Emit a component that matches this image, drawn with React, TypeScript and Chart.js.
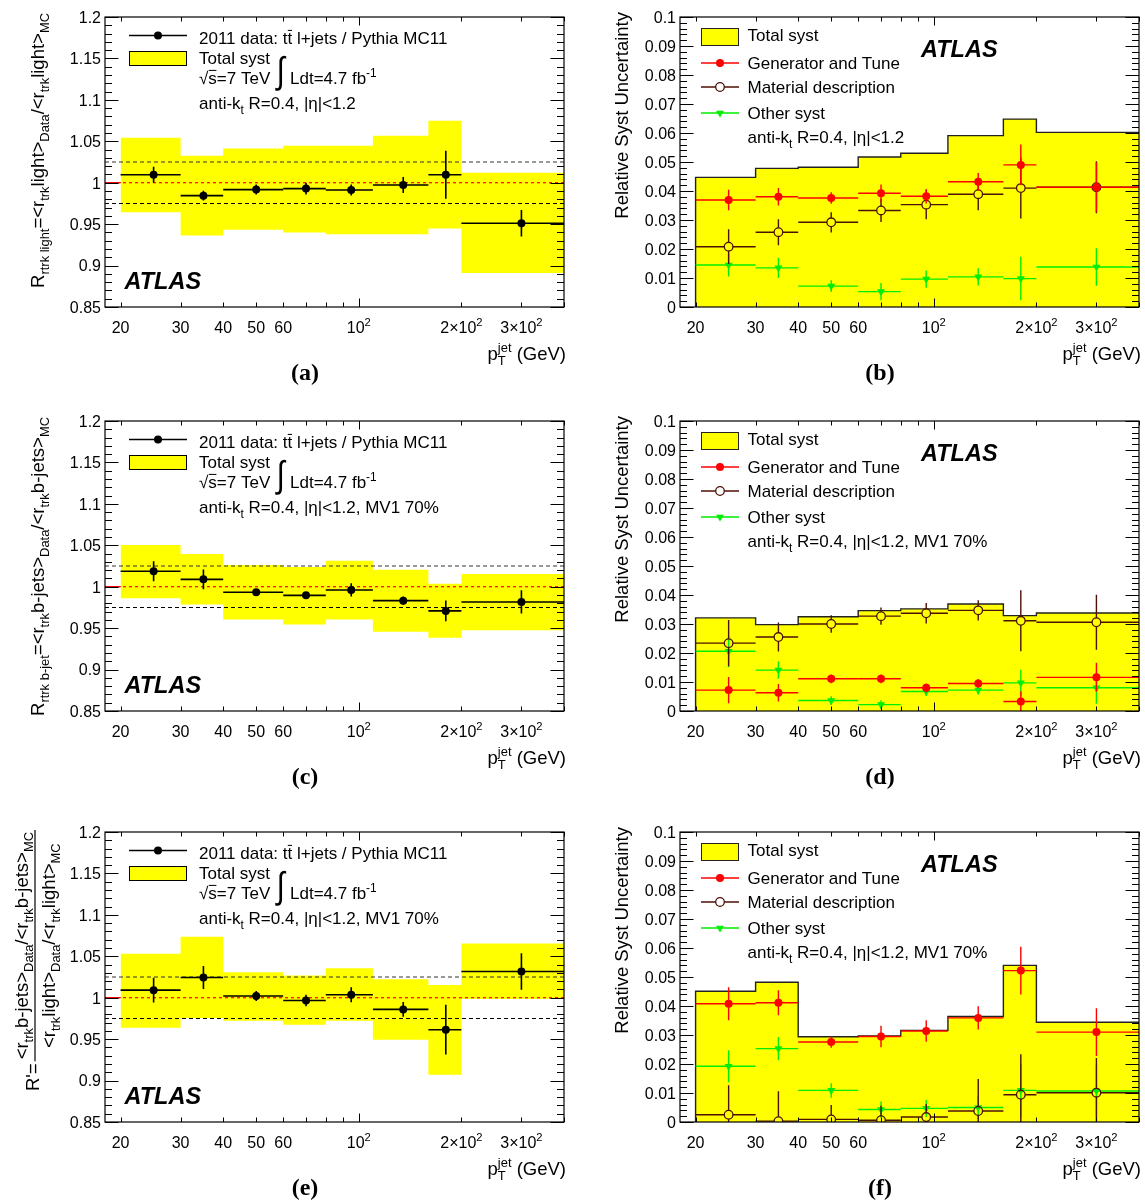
import React, { useEffect, useRef } from 'react';
import { Chart, registerables } from 'chart.js';

Chart.register(...registerables);

const SANS = '"Liberation Sans", Arial, Helvetica, sans-serif';
const SERIF = '"Liberation Serif", "Times New Roman", serif';

// ---------------- shared binning / axes ----------------
const X_MIN = 18;
const X_MAX = 400;
const binEdges = [20, 30, 40, 60, 80, 110, 160, 200, 400];
const binCenters = [25, 35, 50, 70, 95, 135, 180, 300];
const xTickValues = [20, 30, 40, 50, 60, 70, 80, 90, 100, 200, 300, 400];
const xLabelValues = [20, 30, 40, 50, 60, 100, 200, 300];
const xLabelTexts = ['20', '30', '40', '50', '60', '10^{2}', '2×10^{2}', '3×10^{2}'];

const ratioYMin = 0.85;
const ratioYMax = 1.2;
const ratioYTickValues = [0.85, 0.9, 0.95, 1.0, 1.05, 1.1, 1.15, 1.2];
const ratioYTickLabels = ['0.85', '0.9', '0.95', '1', '1.05', '1.1', '1.15', '1.2'];
const ratioMinorStep = 0.01;
const ratioUnity = 1.0;
const ratioUpperRef = 1.025;
const ratioLowerRef = 0.975;

const systYMin = 0;
const systYMax = 0.1;
const systYTickValues = [0, 0.01, 0.02, 0.03, 0.04, 0.05, 0.06, 0.07, 0.08, 0.09, 0.1];
const systYTickLabels = ['0', '0.01', '0.02', '0.03', '0.04', '0.05', '0.06', '0.07', '0.08', '0.09', '0.1'];
const systMinorStep = 0.002;

// ---------------- panel (a): light jets ----------------
const aValues = [1.0097, 0.9844, 0.9917, 0.9929, 0.9912, 0.9973, 1.0097, 0.9511];
const aErr = [0.0096, 0.006, 0.006, 0.007, 0.0065, 0.0096, 0.029, 0.016];
const aBandHi = [1.0543, 1.0326, 1.0414, 1.0446, 1.0446, 1.0567, 1.0748, 1.0121];
const aBandLo = [0.9643, 0.9363, 0.9431, 0.9399, 0.9379, 0.9379, 0.9447, 0.8909];

// ---------------- panel (b) ----------------
const bTotal = [0.0447, 0.0478, 0.0482, 0.0517, 0.053, 0.0591, 0.0648, 0.0602];
const bGen = [0.0369, 0.038, 0.0376, 0.0392, 0.0382, 0.0432, 0.049, 0.0413];
const bGenErr = [0.0035, 0.003, 0.002, 0.003, 0.0025, 0.003, 0.007, 0.0085];
const bMat = [0.0208, 0.0258, 0.0292, 0.0333, 0.0353, 0.0389, 0.041, 0.0413];
const bMatErr = [0.006, 0.0045, 0.0035, 0.004, 0.005, 0.0055, 0.0105, 0.009];
const bOth = [0.0145, 0.0135, 0.0072, 0.0053, 0.0096, 0.0104, 0.0098, 0.0138];
const bOthErr = [0.004, 0.0035, 0.002, 0.003, 0.003, 0.003, 0.0075, 0.0065];

// ---------------- panel (c): b-jets ----------------
const cValues = [1.0186, 1.0089, 0.9933, 0.9896, 0.9961, 0.9832, 0.9708, 0.9816];
const cErr = [0.012, 0.012, 0.004, 0.004, 0.008, 0.005, 0.0125, 0.014];
const cBandHi = [1.0503, 1.0394, 1.0262, 1.0238, 1.0314, 1.0206, 1.0037, 1.0153];
const cBandLo = [0.986, 0.9784, 0.9603, 0.9543, 0.9603, 0.9455, 0.9383, 0.9475];

// ---------------- panel (d) ----------------
const dTotal = [0.0321, 0.0298, 0.0325, 0.0346, 0.0352, 0.0369, 0.0329, 0.0338];
const dGen = [0.0072, 0.0063, 0.0111, 0.0111, 0.008, 0.0095, 0.0033, 0.0116];
const dGenErr = [0.0045, 0.003, 0.0015, 0.0015, 0.0015, 0.0015, 0.0035, 0.005];
const dMat = [0.0234, 0.0255, 0.03, 0.0327, 0.0337, 0.0347, 0.0311, 0.0306];
const dMatErr = [0.008, 0.005, 0.003, 0.003, 0.0035, 0.0035, 0.0105, 0.0095];
const dOth = [0.0206, 0.0141, 0.0036, 0.0022, 0.0067, 0.0072, 0.0097, 0.008];
const dOthErr = [0.0055, 0.003, 0.0015, 0.0015, 0.0015, 0.0015, 0.0045, 0.0055];

// ---------------- panel (e): double ratio ----------------
const eValues = [1.0091, 1.0244, 1.002, 0.9967, 1.0036, 0.9859, 0.9614, 1.0316];
const eErr = [0.015, 0.014, 0.006, 0.007, 0.009, 0.009, 0.03, 0.022];
const eBandHi = [1.0532, 1.0735, 1.0308, 1.0268, 1.0356, 1.0224, 1.0152, 1.0653];
const eBandLo = [0.9638, 0.9755, 0.9723, 0.9675, 0.9723, 0.9494, 0.9069, 0.9984];

// ---------------- panel (f) ----------------
const fTotal = [0.0451, 0.0482, 0.0294, 0.0297, 0.0316, 0.0364, 0.054, 0.0344];
const fGen = [0.0408, 0.0411, 0.0276, 0.0295, 0.0314, 0.0359, 0.0522, 0.031];
const fGenErr = [0.0057, 0.0043, 0.002, 0.0037, 0.0037, 0.004, 0.0082, 0.0082];
const fMat = [0.0025, 0.0003, 0.0009, 0.0006, 0.0017, 0.0038, 0.0094, 0.0101];
const fMatErr = [0.0102, 0.0103, 0.005, 0.005, 0.0045, 0.011, 0.014, 0.012];
const fOth = [0.0192, 0.0253, 0.0109, 0.0043, 0.0047, 0.005, 0.0109, 0.0107];
const fOthErr = [0.0055, 0.004, 0.0025, 0.0028, 0.003, 0.004, 0.0092, 0.009];

// ---------------- texts ----------------
const legendData = '2011 data: t#bar{t} l+jets / Pythia MC11';
const legendTotal = 'Total syst';
const legendSqrtS = '√#bar{s}=7 TeV';
const legendLumi = 'Ldt=4.7 fb^{-1}';
const legendGen = 'Generator and Tune';
const legendMat = 'Material description';
const legendOth = 'Other syst';
const infoLight = 'anti-k_{t} R=0.4, |η|<1.2';
const infoB = 'anti-k_{t} R=0.4, |η|<1.2, MV1 70%';
const titleA = 'R_{rtrk light}=<r_{trk}light>_{Data}/<r_{trk}light>_{MC}';
const titleC = 'R_{rtrk b-jet}=<r_{trk}b-jets>_{Data}/<r_{trk}b-jets>_{MC}';
const titleENum = '<r_{trk}b-jets>_{Data}/<r_{trk}b-jets>_{MC}';
const titleEDen = '<r_{trk}light>_{Data}/<r_{trk}light>_{MC}';
const titleEPrefix = "R'=";
const titleSyst = 'Relative Syst Uncertainty';
const titleX = 'p_{T}^{jet} (GeV)';

// ---------------- layout ----------------
const COL_L = [105, 680];
const ROW_T = [17, 421, 832];
const FRAME_W = 459;
const FRAME_H = 290;
const CELL_X = [0, 575];
const CELL_W = [575, 570];
const CELL_Y = [0, 400, 812];
const CELL_H = [400, 412, 391];

const YELLOW = '#ffff00';
const RED = '#ff0000';
const BROWN = '#4d1005';
const GREEN = '#00ee00';

// ---------------- rich text ----------------
type Seg = { k: string; t: string; t2?: string };
type FontFn = (s: number) => string;
const sansFont: FontFn = (s) => `${s}px ${SANS}`;
const SUBR = 0.7;

function parseRich(s: string): Seg[] {
  const out: Seg[] = [];
  let buf = '';
  let i = 0;
  const flush = () => {
    if (buf) {
      out.push({ k: 'n', t: buf });
      buf = '';
    }
  };
  while (i < s.length) {
    const c = s[i];
    if ((c === '_' || c === '^') && s[i + 1] === '{') {
      flush();
      const j = s.indexOf('}', i + 2);
      const t = s.slice(i + 2, j);
      i = j + 1;
      if (c === '_' && s[i] === '^' && s[i + 1] === '{') {
        const j2 = s.indexOf('}', i + 2);
        out.push({ k: 'ss', t, t2: s.slice(i + 2, j2) });
        i = j2 + 1;
      } else {
        out.push({ k: c === '_' ? 'sub' : 'sup', t });
      }
    } else if (s.startsWith('#bar{', i)) {
      flush();
      const j = s.indexOf('}', i + 5);
      out.push({ k: 'bar', t: s.slice(i + 5, j) });
      i = j + 1;
    } else {
      buf += c;
      i++;
    }
  }
  flush();
  return out;
}

function segWidth(ctx: CanvasRenderingContext2D, seg: Seg, size: number, f: FontFn) {
  if (seg.k === 'n' || seg.k === 'bar') {
    ctx.font = f(size);
    return ctx.measureText(seg.t).width;
  }
  ctx.font = f(size * SUBR);
  if (seg.k === 'ss') return Math.max(ctx.measureText(seg.t).width, ctx.measureText(seg.t2 || '').width);
  return ctx.measureText(seg.t).width;
}

function richWidth(ctx: CanvasRenderingContext2D, segs: Seg[], size: number, f: FontFn) {
  return segs.reduce((a, s) => a + segWidth(ctx, s, size, f), 0);
}

function drawRich(
  ctx: CanvasRenderingContext2D,
  text: string,
  x: number,
  y: number,
  size: number,
  align: 'left' | 'right' | 'center',
  f: FontFn = sansFont,
) {
  const segs = parseRich(text);
  const w = richWidth(ctx, segs, size, f);
  let cx = align === 'left' ? x : align === 'right' ? x - w : x - w / 2;
  ctx.textAlign = 'left';
  ctx.textBaseline = 'alphabetic';
  for (const s of segs) {
    const sw = segWidth(ctx, s, size, f);
    if (s.k === 'n' || s.k === 'bar') {
      ctx.font = f(size);
      ctx.fillText(s.t, cx, y);
      if (s.k === 'bar') {
        ctx.save();
        ctx.strokeStyle = ctx.fillStyle as string;
        ctx.lineWidth = Math.max(1, size * 0.06);
        ctx.beginPath();
        ctx.moveTo(cx + sw * 0.05, y - size * 0.8);
        ctx.lineTo(cx + sw * 0.95, y - size * 0.8);
        ctx.stroke();
        ctx.restore();
      }
    } else {
      ctx.font = f(size * SUBR);
      if (s.k === 'sub' || s.k === 'ss') ctx.fillText(s.t, cx, y + size * 0.28);
      if (s.k === 'sup') ctx.fillText(s.t, cx, y - size * 0.42);
      if (s.k === 'ss') ctx.fillText(s.t2 || '', cx, y - size * 0.42);
    }
    cx += sw;
  }
  return w;
}

function rotWidth(ctx: CanvasRenderingContext2D, text: string, size: number) {
  return richWidth(ctx, parseRich(text), size, sansFont);
}

// ---------------- panel definitions ----------------
type Panel = {
  id: string;
  kind: 'ratio' | 'syst';
  col: number;
  row: number;
  label: string;
  info: string;
  values?: number[];
  err?: number[];
  hi?: number[];
  lo?: number[];
  yTitle?: string;
  fraction?: boolean;
  total?: number[];
  gen?: number[];
  genErr?: number[];
  mat?: number[];
  matErr?: number[];
  oth?: number[];
  othErr?: number[];
};

const panels: Panel[] = [
  { id: 'a', kind: 'ratio', col: 0, row: 0, label: '(a)', info: infoLight, values: aValues, err: aErr, hi: aBandHi, lo: aBandLo, yTitle: titleA },
  { id: 'b', kind: 'syst', col: 1, row: 0, label: '(b)', info: infoLight, total: bTotal, gen: bGen, genErr: bGenErr, mat: bMat, matErr: bMatErr, oth: bOth, othErr: bOthErr },
  { id: 'c', kind: 'ratio', col: 0, row: 1, label: '(c)', info: infoB, values: cValues, err: cErr, hi: cBandHi, lo: cBandLo, yTitle: titleC },
  { id: 'd', kind: 'syst', col: 1, row: 1, label: '(d)', info: infoB, total: dTotal, gen: dGen, genErr: dGenErr, mat: dMat, matErr: dMatErr, oth: dOth, othErr: dOthErr },
  { id: 'e', kind: 'ratio', col: 0, row: 2, label: '(e)', info: infoB, values: eValues, err: eErr, hi: eBandHi, lo: eBandLo, fraction: true },
  { id: 'f', kind: 'syst', col: 1, row: 2, label: '(f)', info: infoB, total: fTotal, gen: fGen, genErr: fGenErr, mat: fMat, matErr: fMatErr, oth: fOth, othErr: fOthErr },
];

const stepPoints = (vals: number[]) => [
  ...vals.map((v, i) => ({ x: binEdges[i], y: v })),
  { x: binEdges[binEdges.length - 1], y: vals[vals.length - 1] },
];
const centerPoints = (vals: number[]) => vals.map((v, i) => ({ x: binCenters[i], y: v }));
const xLo = binEdges.slice(0, -1);
const xHi = binEdges.slice(1);

function hline(y: number, color: string, dash: number[], width: number, order: number) {
  return {
    type: 'line',
    data: [
      { x: X_MIN, y },
      { x: X_MAX, y },
    ],
    borderColor: color,
    borderDash: dash,
    borderWidth: width,
    pointRadius: 0,
    fill: false,
    order,
  };
}

function pointSet(vals: number[], errs: number[], style: any, order: number) {
  return {
    type: 'line',
    showLine: false,
    data: centerPoints(vals),
    errY: errs,
    xLo,
    xHi,
    order,
    ...style,
  };
}

function buildDatasets(p: Panel): any[] {
  if (p.kind === 'ratio') {
    return [
      hline(ratioUnity, RED, [], 1.2, 40),
      {
        type: 'line',
        data: stepPoints(p.hi!),
        stepped: 'before',
        borderColor: 'rgba(0,0,0,0)',
        borderWidth: 0,
        pointRadius: 0,
        fill: '+1',
        backgroundColor: YELLOW,
        order: 30,
      },
      {
        type: 'line',
        data: stepPoints(p.lo!),
        stepped: 'before',
        borderColor: 'rgba(0,0,0,0)',
        borderWidth: 0,
        pointRadius: 0,
        fill: false,
        order: 30,
      },
      hline(ratioUnity, RED, [3, 3], 1.2, 10),
      hline(ratioUpperRef, '#333', [4, 3], 1.1, 10),
      hline(ratioLowerRef, '#000', [4, 3], 1.1, 10),
      pointSet(
        p.values!,
        p.err!,
        {
          pointStyle: 'circle',
          pointRadius: 4,
          pointBackgroundColor: '#000',
          pointBorderColor: '#000',
          pointBorderWidth: 0,
          errColor: '#000',
          errWidth: 1.6,
          errGap: 0,
        },
        1,
      ),
    ];
  }
  return [
    {
      type: 'line',
      data: [{ x: binEdges[0], y: 0 }, ...stepPoints(p.total!)],
      stepped: 'before',
      borderColor: '#222',
      borderWidth: 1.4,
      pointRadius: 0,
      fill: 'origin',
      backgroundColor: YELLOW,
      order: 30,
    },
    pointSet(
      p.oth!,
      p.othErr!,
      {
        pointStyle: 'triangle',
        pointRotation: 180,
        pointRadius: 4.6,
        pointBackgroundColor: GREEN,
        pointBorderColor: GREEN,
        pointBorderWidth: 0,
        errColor: GREEN,
        errWidth: 1.4,
        errGap: 0,
      },
      3,
    ),
    pointSet(
      p.mat!,
      p.matErr!,
      {
        pointStyle: 'circle',
        pointRadius: 4.3,
        pointBackgroundColor: 'rgba(0,0,0,0)',
        pointBorderColor: BROWN,
        pointBorderWidth: 1.3,
        errColor: BROWN,
        errWidth: 1.4,
        errGap: 4.3,
      },
      2,
    ),
    pointSet(
      p.gen!,
      p.genErr!,
      {
        pointStyle: 'circle',
        pointRadius: 4,
        pointBackgroundColor: RED,
        pointBorderColor: RED,
        pointBorderWidth: 0,
        errColor: RED,
        errWidth: 1.4,
        errGap: 0,
      },
      1,
    ),
  ];
}

// ---------------- decoration ----------------
function drawTriangleDown(ctx: CanvasRenderingContext2D, x: number, y: number, r: number) {
  ctx.beginPath();
  ctx.moveTo(x, y + r);
  ctx.lineTo(x - 0.866 * r, y - 0.5 * r);
  ctx.lineTo(x + 0.866 * r, y - 0.5 * r);
  ctx.closePath();
  ctx.fill();
}

function drawIntegral(ctx: CanvasRenderingContext2D, x: number, yTop: number, yBot: number) {
  ctx.save();
  ctx.font = `40px ${SANS}`;
  const m = ctx.measureText('∫');
  const asc = m.actualBoundingBoxAscent;
  const desc = m.actualBoundingBoxDescent;
  const s = (yBot - yTop) / (asc + desc);
  ctx.translate(x + m.actualBoundingBoxLeft * s * 0.8, yTop);
  ctx.scale(s * 0.8, s);
  ctx.textAlign = 'left';
  ctx.textBaseline = 'alphabetic';
  ctx.fillText('∫', 0, asc);
  ctx.restore();
}

function decorate(chart: any, p: Panel) {
  const ctx: CanvasRenderingContext2D = chart.ctx;
  const ca = chart.chartArea;
  const xs = chart.scales.x;
  const ys = chart.scales.y;
  const L = ca.left;
  const T = ca.top;
  const R = ca.right;
  const B = ca.bottom;
  ctx.save();
  ctx.fillStyle = '#000';
  ctx.strokeStyle = '#000';

  // frame
  ctx.lineWidth = 1.2;
  ctx.strokeRect(L, T, R - L, B - T);

  // x ticks
  ctx.lineWidth = 1;
  ctx.beginPath();
  for (const v of xTickValues) {
    const px = Math.round(xs.getPixelForValue(v)) + 0.5;
    const len = v === 100 ? 8.5 : 4.5;
    ctx.moveTo(px, B);
    ctx.lineTo(px, B - len);
    ctx.moveTo(px, T);
    ctx.lineTo(px, T + len);
  }
  // y ticks
  const yMin = p.kind === 'ratio' ? ratioYMin : systYMin;
  const yMax = p.kind === 'ratio' ? ratioYMax : systYMax;
  const minor = p.kind === 'ratio' ? ratioMinorStep : systMinorStep;
  const n = Math.round((yMax - yMin) / minor);
  for (let k = 0; k <= n; k++) {
    const v = yMin + k * minor;
    const py = Math.round(ys.getPixelForValue(v)) + 0.5;
    const len = k % 5 === 0 ? 13.5 : 7;
    ctx.moveTo(L, py);
    ctx.lineTo(L + len, py);
    ctx.moveTo(R, py);
    ctx.lineTo(R - len, py);
  }
  ctx.stroke();

  // tick labels
  xLabelValues.forEach((v, i) => {
    drawRich(ctx, xLabelTexts[i], xs.getPixelForValue(v), B + 26, 16, 'center');
  });
  const yVals = p.kind === 'ratio' ? ratioYTickValues : systYTickValues;
  const yLabs = p.kind === 'ratio' ? ratioYTickLabels : systYTickLabels;
  yVals.forEach((v, i) => {
    drawRich(ctx, yLabs[i], L - 4, ys.getPixelForValue(v) + 5.8, 16, 'right');
  });

  // x title
  drawRich(ctx, titleX, R + 2, T + 343, 18.5, 'right');

  // panel label
  ctx.font = `bold 24px ${SERIF}`;
  ctx.textAlign = 'center';
  ctx.textBaseline = 'alphabetic';
  ctx.fillText(p.label, L + 200, T + 363);

  // y title
  if (p.kind === 'syst') {
    ctx.save();
    ctx.translate(L - 52, T - 5);
    ctx.rotate(-Math.PI / 2);
    drawRich(ctx, titleSyst, 0, 0, 18.5, 'right');
    ctx.restore();
  } else if (p.fraction) {
    ctx.save();
    ctx.translate(L - 70, T - 2);
    ctx.rotate(-Math.PI / 2);
    const wn = rotWidth(ctx, titleENum, 18.5);
    const wd = rotWidth(ctx, titleEDen, 18.5);
    const len = Math.max(wn, wd) + 4;
    ctx.lineWidth = 1.2;
    ctx.beginPath();
    ctx.moveTo(-len, 0);
    ctx.lineTo(0, 0);
    ctx.stroke();
    drawRich(ctx, titleENum, -len / 2, -7.5, 18.5, 'center');
    drawRich(ctx, titleEDen, -len / 2, 19.5, 18.5, 'center');
    drawRich(ctx, titleEPrefix, -len - 2, 4, 18.5, 'right');
    ctx.restore();
  } else {
    ctx.save();
    ctx.translate(L - 61, T - 4);
    ctx.rotate(-Math.PI / 2);
    drawRich(ctx, p.yTitle || '', 0, 0, 18.5, 'right');
    ctx.restore();
  }

  // ATLAS
  ctx.font = `italic bold 23.5px ${SANS}`;
  ctx.textAlign = 'left';
  ctx.textBaseline = 'alphabetic';
  if (p.kind === 'ratio') ctx.fillText('ATLAS', L + 19.5, T + 271.5);
  else ctx.fillText('ATLAS', L + 241, T + 39.5);

  // legend
  if (p.kind === 'ratio') {
    ctx.lineWidth = 1.5;
    ctx.beginPath();
    ctx.moveTo(L + 24, T + 18.5);
    ctx.lineTo(L + 82, T + 18.5);
    ctx.stroke();
    ctx.beginPath();
    ctx.arc(L + 53, T + 18.5, 4, 0, Math.PI * 2);
    ctx.fill();
    ctx.fillStyle = YELLOW;
    ctx.fillRect(L + 24, T + 34, 58, 15);
    ctx.lineWidth = 1;
    ctx.strokeRect(L + 24.5, T + 34.5, 57, 14);
    ctx.fillStyle = '#000';
    drawRich(ctx, legendData, L + 94, T + 27, 17, 'left');
    drawRich(ctx, legendTotal, L + 94, T + 47, 17, 'left');
    drawRich(ctx, legendSqrtS, L + 94, T + 67, 17, 'left');
    drawIntegral(ctx, L + 170, T + 38.5, T + 74.5);
    drawRich(ctx, legendLumi, L + 185, T + 67, 17, 'left');
    drawRich(ctx, p.info, L + 94, T + 92, 17, 'left');
  } else {
    const mx0 = L + 21;
    const mx1 = L + 59;
    const mc = L + 40;
    ctx.fillStyle = YELLOW;
    ctx.fillRect(mx0, T + 11, mx1 - mx0, 18);
    ctx.lineWidth = 1;
    ctx.strokeStyle = '#222';
    ctx.strokeRect(mx0 + 0.5, T + 11.5, mx1 - mx0 - 1, 17);
    ctx.lineWidth = 1.4;
    // generator
    ctx.strokeStyle = RED;
    ctx.fillStyle = RED;
    ctx.beginPath();
    ctx.moveTo(mx0, T + 46);
    ctx.lineTo(mx1, T + 46);
    ctx.stroke();
    ctx.beginPath();
    ctx.arc(mc, T + 46, 4, 0, Math.PI * 2);
    ctx.fill();
    // material
    ctx.strokeStyle = BROWN;
    ctx.beginPath();
    ctx.moveTo(mx0, T + 70);
    ctx.lineTo(mc - 4.3, T + 70);
    ctx.moveTo(mc + 4.3, T + 70);
    ctx.lineTo(mx1, T + 70);
    ctx.stroke();
    ctx.lineWidth = 1.3;
    ctx.beginPath();
    ctx.arc(mc, T + 70, 4.3, 0, Math.PI * 2);
    ctx.stroke();
    // other
    ctx.strokeStyle = GREEN;
    ctx.fillStyle = GREEN;
    ctx.lineWidth = 1.4;
    ctx.beginPath();
    ctx.moveTo(mx0, T + 96);
    ctx.lineTo(mx1, T + 96);
    ctx.stroke();
    drawTriangleDown(ctx, mc, T + 96, 4.6);
    ctx.fillStyle = '#000';
    drawRich(ctx, legendTotal, L + 67.5, T + 24, 17, 'left');
    drawRich(ctx, legendGen, L + 67.5, T + 52, 17, 'left');
    drawRich(ctx, legendMat, L + 67.5, T + 76, 17, 'left');
    drawRich(ctx, legendOth, L + 67.5, T + 102, 17, 'left');
    drawRich(ctx, p.info, L + 67.5, T + 126, 17, 'left');
  }
  ctx.restore();
}

function makePlugin(p: Panel) {
  return {
    id: 'atlasDecor_' + p.id,
    beforeDatasetDraw(chart: any, args: any) {
      const ds: any = chart.data.datasets[args.index];
      if (!ds.errY) return;
      const ctx: CanvasRenderingContext2D = chart.ctx;
      const xs = chart.scales.x;
      const ys = chart.scales.y;
      const ca = chart.chartArea;
      ctx.save();
      ctx.beginPath();
      ctx.rect(ca.left, ca.top, ca.right - ca.left, ca.bottom - ca.top);
      ctx.clip();
      ctx.strokeStyle = ds.errColor;
      ctx.lineWidth = ds.errWidth || 1.5;
      const gap = ds.errGap || 0;
      ds.data.forEach((pt: any, i: number) => {
        const cx = xs.getPixelForValue(pt.x);
        const cy = ys.getPixelForValue(pt.y);
        const xl = xs.getPixelForValue(ds.xLo[i]);
        const xr = xs.getPixelForValue(ds.xHi[i]);
        const yt = ys.getPixelForValue(pt.y + ds.errY[i]);
        const yb = ys.getPixelForValue(pt.y - ds.errY[i]);
        ctx.beginPath();
        ctx.moveTo(xl, cy);
        ctx.lineTo(cx - gap, cy);
        ctx.moveTo(cx + gap, cy);
        ctx.lineTo(xr, cy);
        if (yt < cy - gap) {
          ctx.moveTo(cx, cy - gap);
          ctx.lineTo(cx, yt);
        }
        if (yb > cy + gap) {
          ctx.moveTo(cx, cy + gap);
          ctx.lineTo(cx, yb);
        }
        ctx.stroke();
      });
      ctx.restore();
    },
    afterDraw(chart: any) {
      decorate(chart, p);
    },
  };
}

function PanelChart({ p }: { p: Panel }) {
  const ref = useRef<HTMLCanvasElement>(null);
  const cellX = CELL_X[p.col];
  const cellW = CELL_W[p.col];
  const cellY = CELL_Y[p.row];
  const cellH = CELL_H[p.row];
  useEffect(() => {
    if (!ref.current) return;
    const L = COL_L[p.col];
    const T = ROW_T[p.row];
    const isRatio = p.kind === 'ratio';
    const chart = new Chart(ref.current, {
      type: 'line',
      data: { datasets: buildDatasets(p) },
      options: {
        responsive: false,
        animation: false,
        events: [],
        layout: {
          padding: {
            left: L - cellX,
            top: T - cellY,
            right: cellX + cellW - (L + FRAME_W),
            bottom: cellY + cellH - (T + FRAME_H),
          },
        },
        plugins: { legend: { display: false }, tooltip: { enabled: false } },
        scales: {
          x: { type: 'logarithmic', min: X_MIN, max: X_MAX, display: false, bounds: 'data' },
          y: {
            type: 'linear',
            min: isRatio ? ratioYMin : systYMin,
            max: isRatio ? ratioYMax : systYMax,
            display: false,
            bounds: 'data',
          },
        },
      } as any,
      plugins: [makePlugin(p)],
    } as any);
    return () => chart.destroy();
  }, []);
  return (
    <canvas
      ref={ref}
      width={cellW}
      height={cellH}
      style={{ position: 'absolute', left: cellX, top: cellY, width: cellW, height: cellH }}
    />
  );
}

export default function App() {
  return (
    <div style={{ position: 'absolute', left: 0, top: 0, width: 1145, height: 1203, background: '#fff' }}>
      {panels.map((p) => (
        <PanelChart key={p.id} p={p} />
      ))}
    </div>
  );
}
